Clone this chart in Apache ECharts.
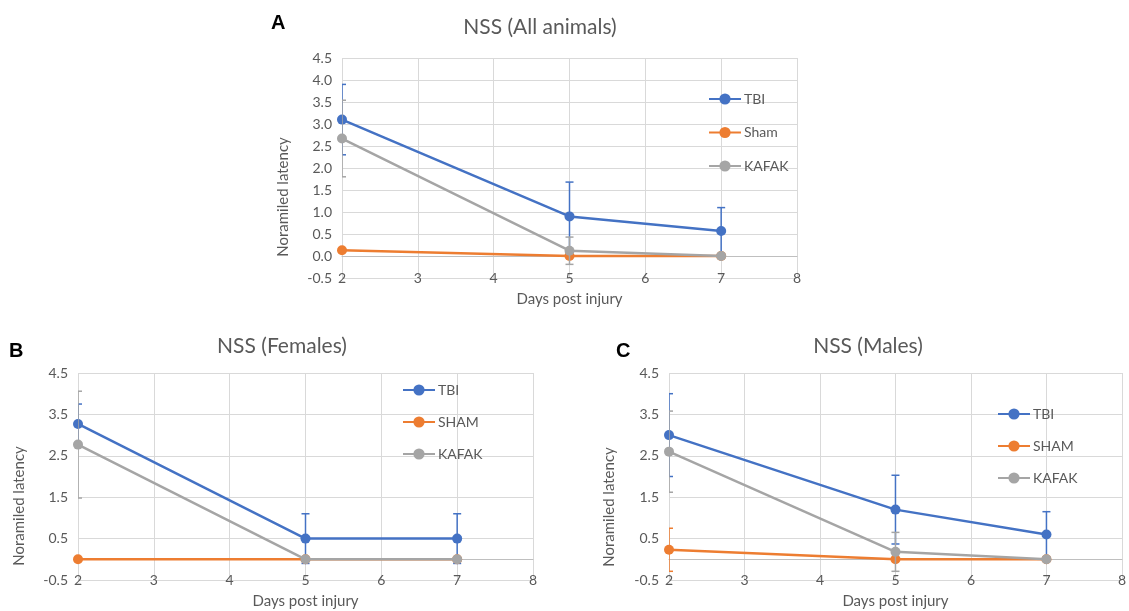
<!DOCTYPE html>
<html>
<head>
<meta charset="utf-8">
<title>NSS</title>
<script src="https://cdn.jsdelivr.net/npm/echarts@6/dist/echarts.min.js"></script>
<style>
  html, body { margin: 0; padding: 0; background: #ffffff; }
  #chart { width: 1129px; height: 611px; }
</style>
</head>
<body>
<div id="chart"></div>
<script>
// Days after injury at which NSS was scored
const days = [2, 5, 7];

// All animals: means and error half-widths
const allTBI = [3.1, 0.9, 0.57];
const allTBIErr = [0.8, 0.78, 0.53];
const allSham = [0.13, 0, 0];
const allShamErr = [0, 0, 0];
const allKafak = [2.67, 0.12, 0];
const allKafakErr = [0.87, 0.31, 0];

// Females
const femTBI = [3.27, 0.5, 0.5];
const femTBIErr = [0.48, 0.6, 0.6];
const femSham = [0, 0, 0];
const femShamErr = [0, 0, 0];
const femKafak = [2.77, 0, 0];
const femKafakErr = [1.29, 0, 0];

// Males
const maleTBI = [3.0, 1.2, 0.6];
const maleTBIErr = [1.0, 0.83, 0.55];
const maleSham = [0.23, 0, 0];
const maleShamErr = [0.52, 0, 0];
const maleKafak = [2.6, 0.18, 0];
const maleKafakErr = [0.98, 0.47, 0];

// Panel titles, letters and axis texts
const panelTitles = ['NSS (All animals)', 'NSS (Females)', 'NSS (Males)'];
const panelLetters = ['A', 'B', 'C'];
const shamNames = ['Sham', 'SHAM', 'SHAM'];
const yName = 'Noramiled latency';
const xName = 'Days post injury';

const BLUE = '#4472C4', ORANGE = '#ED7D31', GRAY = '#A5A5A5';
const TEXT = '#595959', GRID = '#D9D9D9';
const FONT = 'Lato, "Open Sans", "Liberation Sans", sans-serif';

const panels = [
  { grid: { left: 342, top: 58, width: 455, height: 220 }, yInterval: 0.5,
    title: { x: 540, y: 17 }, letter: { x: 271, y: 13 }, yName: { x: 283, y: 197 },
    legend: { left: 708, top: 92, gap: 19.5 },
    data: [[allTBI, allTBIErr, BLUE], [allSham, allShamErr, ORANGE], [allKafak, allKafakErr, GRAY]] },
  { grid: { left: 78, top: 373, width: 455, height: 207 }, yInterval: 1,
    title: { x: 282, y: 336 }, letter: { x: 9, y: 341 }, yName: { x: 19, y: 506 },
    legend: { left: 402, top: 383, gap: 18 },
    data: [[femTBI, femTBIErr, BLUE], [femSham, femShamErr, ORANGE], [femKafak, femKafakErr, GRAY]] },
  { grid: { left: 669, top: 373, width: 459, height: 207 }, yInterval: 1,
    title: { x: 868, y: 336 }, letter: { x: 616, y: 341 }, yName: { x: 609, y: 507 },
    legend: { left: 997, top: 407, gap: 18 },
    data: [[maleTBI, maleTBIErr, BLUE], [maleSham, maleShamErr, ORANGE], [maleKafak, maleKafakErr, GRAY]] }
];

function pairs(vals) { return days.map((d, i) => [d, vals[i]]); }
function errData(vals, errs) { return days.map((d, i) => [d, vals[i] - errs[i], vals[i] + errs[i]]); }

function errRenderer(color) {
  return function (params, api) {
    const x = api.value(0), lo = api.value(1), hi = api.value(2);
    if (hi - lo <= 0) return null;
    const top = api.coord([x, hi]);
    const bot = api.coord([x, lo]);
    const half = 4;
    const style = { stroke: color, lineWidth: 1.5, fill: null };
    return {
      type: 'group',
      children: [
        { type: 'line', shape: { x1: top[0], y1: top[1], x2: bot[0], y2: bot[1] }, style: style },
        { type: 'line', shape: { x1: top[0] - half, y1: top[1], x2: top[0] + half, y2: top[1] }, style: style },
        { type: 'line', shape: { x1: bot[0] - half, y1: bot[1], x2: bot[0] + half, y2: bot[1] }, style: style }
      ]
    };
  };
}

const option = {
  animation: false,
  textStyle: { fontFamily: FONT },
  title: [], grid: [], xAxis: [], yAxis: [], legend: [], series: [], graphic: []
};

panels.forEach((p, k) => {
  option.grid.push(Object.assign({ containLabel: false }, p.grid));
  option.title.push({
    text: panelTitles[k], left: p.title.x, top: p.title.y, textAlign: 'center', padding: 0,
    textStyle: { fontFamily: FONT, fontSize: 21, fontWeight: 'normal', color: TEXT }
  });
  option.title.push({
    text: panelLetters[k], left: p.letter.x, top: p.letter.y, padding: 0,
    textStyle: { fontFamily: 'Liberation Sans, Arial, sans-serif', fontSize: 20, fontWeight: 'bold', color: '#000000' }
  });
  // vertical axis title, sits a little below the plot centre
  option.graphic.push({
    type: 'text', x: p.yName.x, y: p.yName.y, rotation: Math.PI / 2,
    style: { text: yName, fill: TEXT, font: '15px ' + FONT, textAlign: 'center', textVerticalAlign: 'middle' }
  });
  // category labels along the bottom edge
  option.xAxis.push({
    type: 'value', gridIndex: k, min: 2, max: 8, interval: 1, position: 'bottom',
    name: xName, nameLocation: 'middle', nameGap: 14,
    nameTextStyle: { fontFamily: FONT, fontSize: 15, color: TEXT },
    axisLine: { show: false, onZero: false }, axisTick: { show: false },
    axisLabel: { color: TEXT, fontSize: 14, margin: -7, fontFamily: FONT, showMaxLabel: true, showMinLabel: true },
    splitLine: { show: true, lineStyle: { color: GRID, width: 1 } }
  });
  // horizontal axis line crossing at zero
  option.xAxis.push({
    type: 'value', gridIndex: k, min: 2, max: 8, interval: 1, position: 'top',
    axisLine: { show: true, onZero: true, lineStyle: { color: '#BFBFBF', width: 1 } },
    axisTick: { show: false }, axisLabel: { show: false }, splitLine: { show: false }
  });
  option.yAxis.push({
    type: 'value', gridIndex: k, min: -0.5, max: 4.5, interval: p.yInterval,
    axisLine: { show: false }, axisTick: { show: false },
    axisLabel: { color: TEXT, fontSize: 14, margin: 10, fontFamily: FONT, formatter: v => v.toFixed(1) },
    splitLine: { show: true, lineStyle: { color: GRID, width: 1 } }
  });

  const names = ['TBI', shamNames[k], 'KAFAK'];
  option.legend.push({
    data: names, orient: 'vertical', left: p.legend.left, top: p.legend.top,
    itemWidth: 32, itemHeight: 14, itemGap: p.legend.gap, padding: 0,
    textStyle: { fontFamily: FONT, fontSize: 14, color: TEXT, padding: [0, 0, 0, -2] },
    selectedMode: false
  });

  p.data.forEach(([vals, errs, color], j) => {
    option.series.push({
      type: 'custom', name: names[j] + ' error', xAxisIndex: 2 * k, yAxisIndex: k,
      clip: true, silent: true, z: 2 + j * 2,
      renderItem: errRenderer(color),
      data: errData(vals, errs)
    });
    option.series.push({
      type: 'line', name: names[j], xAxisIndex: 2 * k, yAxisIndex: k,
      data: pairs(vals), z: 3 + j * 2,
      symbol: 'circle', symbolSize: 10, showSymbol: true,
      itemStyle: { color: color },
      lineStyle: { color: color, width: 2.5 }
    });
  });
});

const chart = echarts.init(document.getElementById('chart'), null, { renderer: 'canvas' });
chart.setOption(option);
</script>
</body>
</html>
